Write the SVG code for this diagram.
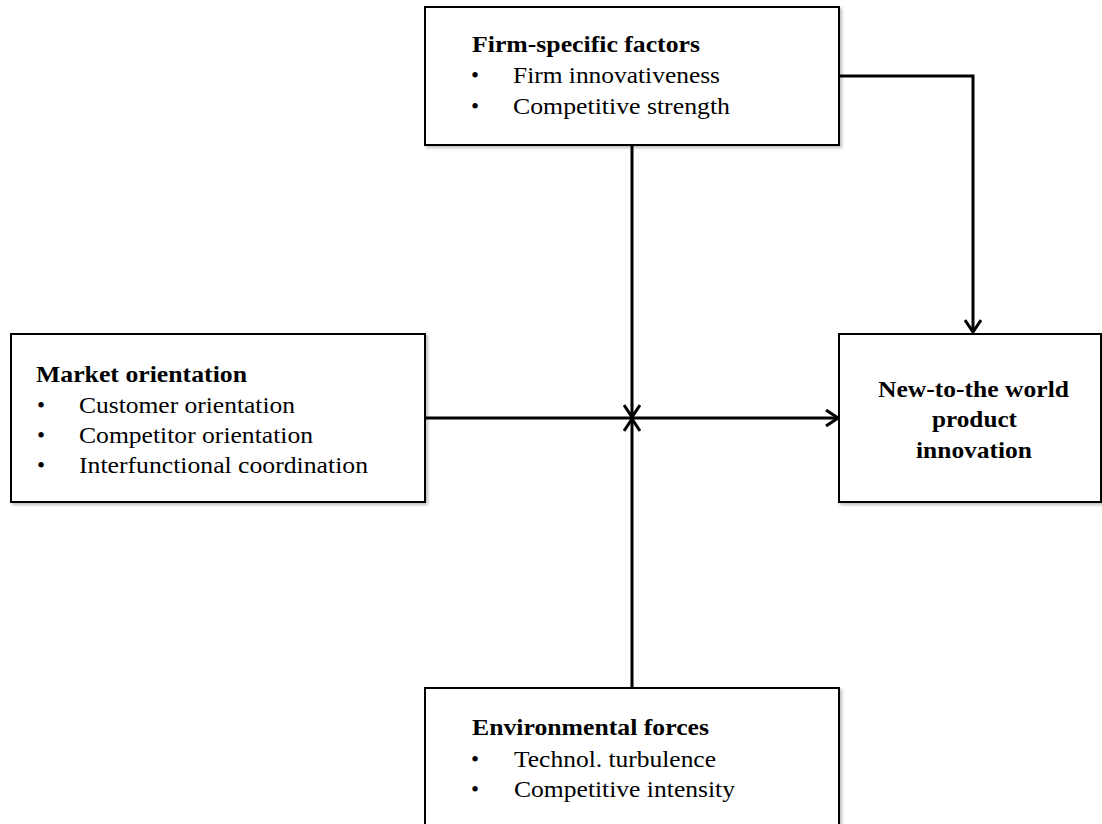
<svg xmlns="http://www.w3.org/2000/svg" width="1102" height="824" viewBox="0 0 1102 824">
  <style>
    .box { fill: #ffffff; stroke: #000000; stroke-width: 2; filter: url(#shadow); }
    .title { font-family: "Liberation Serif", "Times New Roman", serif; font-size: 23px; font-weight: bold; fill: #000000; }
    .item { font-family: "Liberation Serif", "Times New Roman", serif; font-size: 23px; fill: #000000; }
    .center { text-anchor: middle; }
    .link { fill: none; stroke: #000000; stroke-width: 3; }
  </style>
  <defs>
    <filter id="shadow" x="-5%" y="-5%" width="115%" height="115%">
      <feDropShadow dx="2" dy="2" stdDeviation="1.5" flood-color="#000000" flood-opacity="0.25"/>
    </filter>
    <marker id="chevron" viewBox="0 0 14 18" refX="13" refY="9" markerWidth="14" markerHeight="18" markerUnits="userSpaceOnUse" orient="auto">
      <path d="M1,1 L13,9 L1,17" fill="none" stroke="#000000" stroke-width="3"/>
    </marker>
  </defs>

  <!-- Firm-specific factors -->
  <g id="firm-specific">
    <rect class="box" x="425" y="7" width="414" height="138"/>
    <text class="title" x="472" y="52" textLength="228" lengthAdjust="spacingAndGlyphs">Firm-specific factors</text>
    <text class="item" x="471" y="83">•</text>
    <text class="item" x="513" y="83" textLength="207" lengthAdjust="spacingAndGlyphs">Firm innovativeness</text>
    <text class="item" x="471" y="114">•</text>
    <text class="item" x="513" y="114" textLength="217" lengthAdjust="spacingAndGlyphs">Competitive strength</text>
  </g>

  <!-- Market orientation -->
  <g id="market-orientation">
    <rect class="box" x="11" y="334" width="414" height="168"/>
    <text class="title" x="36" y="382" textLength="211" lengthAdjust="spacingAndGlyphs">Market orientation</text>
    <text class="item" x="37" y="413">•</text>
    <text class="item" x="79" y="413" textLength="216" lengthAdjust="spacingAndGlyphs">Customer orientation</text>
    <text class="item" x="37" y="443">•</text>
    <text class="item" x="79" y="443" textLength="234" lengthAdjust="spacingAndGlyphs">Competitor orientation</text>
    <text class="item" x="37" y="473">•</text>
    <text class="item" x="79" y="473" textLength="289" lengthAdjust="spacingAndGlyphs">Interfunctional coordination</text>
  </g>

  <!-- New-to-the world product innovation -->
  <g id="innovation">
    <rect class="box" x="839" y="334" width="262" height="168"/>
    <text class="title" x="878" y="397" textLength="191" lengthAdjust="spacingAndGlyphs">New-to-the world</text>
    <text class="title" x="932" y="427" textLength="85" lengthAdjust="spacingAndGlyphs">product</text>
    <text class="title" x="916" y="458" textLength="116" lengthAdjust="spacingAndGlyphs">innovation</text>
  </g>

  <!-- Environmental forces -->
  <g id="environmental-forces">
    <rect class="box" x="425" y="688" width="414" height="150"/>
    <text class="title" x="472" y="735" textLength="237" lengthAdjust="spacingAndGlyphs">Environmental forces</text>
    <text class="item" x="471" y="767">•</text>
    <text class="item" x="514" y="767" textLength="202" lengthAdjust="spacingAndGlyphs">Technol. turbulence</text>
    <text class="item" x="471" y="797">•</text>
    <text class="item" x="514" y="797" textLength="221" lengthAdjust="spacingAndGlyphs">Competitive intensity</text>
  </g>

  <!-- Connectors -->
  <g id="connectors">
    <path class="link" d="M839,76 H973 V332" marker-end="url(#chevron)"/>
    <path class="link" d="M425,418 H838" marker-end="url(#chevron)"/>
    <path class="link" d="M632,145 V417" marker-end="url(#chevron)"/>
    <path class="link" d="M632,688 V419" marker-end="url(#chevron)"/>
  </g>
</svg>
